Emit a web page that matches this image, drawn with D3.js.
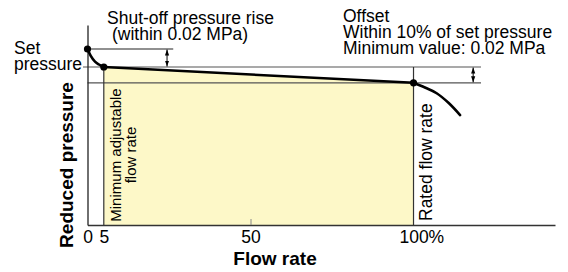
<!DOCTYPE html>
<html>
<head>
<meta charset="utf-8">
<script src="https://cdn.jsdelivr.net/npm/d3@7"></script>
<style>
  html, body { margin: 0; padding: 0; background: #ffffff; }
  svg { display: block; font-family: "Liberation Sans", Arial, Helvetica, sans-serif; }
</style>
</head>
<body>
<svg id="chart" width="568" height="272"></svg>
<script>
// ---- data (flow rate in % of rated flow, pressure in % of set pressure) ----
const shutoffFlow = [0, 1, 2.3, 3.5, 5];
const shutoffPressure = [111.4, 107.0, 103.4, 101.6, 100];
const regFlow = [5, 100];
const regPressure = [100, 90];
const dropFlow = [100, 103.5, 107.1, 110.8, 114.3];
const dropPressure = [90, 87.0, 83.4, 77.2, 69.6];
const keyFlow = [0, 5, 100];
const keyPressure = [111.4, 100, 90];
const tickValues = [0, 5, 50, 100];
const tickLabels = ["0", "5", "50", "100%"];
const setPressure = 100;
const offsetPressure = 90;
const shutoffRise = 111.4;
const minFlow = 5;
const ratedFlow = 100;

// ---- scales ----
const svg = d3.select("#chart");
const x = d3.scaleLinear().domain([0, 143.4]).range([87.5, 555]);
const y = d3.scaleLinear().domain([0, 126.6]).range([225, 25]);
const font = 17.5;
const grey = "#555";

// yellow band under the regulated curve
const areaPts = shutoffFlow.slice(-1).map((f, i) => [f, shutoffPressure[shutoffPressure.length - 1]])
  .concat(regFlow.map((f, i) => [f, regPressure[i]]));
svg.append("path")
  .attr("d", d3.area().x(d => x(d[0])).y0(y(0)).y1(d => y(d[1]))(regFlow.map((f, i) => [f, regPressure[i]])))
  .attr("fill", "#fdf8c8");

// reference lines
const ln = (x1, y1, x2, y2, c, w) => svg.append("line")
  .attr("x1", x1).attr("y1", y1).attr("x2", x2).attr("y2", y2)
  .attr("stroke", c).attr("stroke-width", w || 1);
ln(x(0) - 4.5, y(setPressure), x(0) + 393.5, y(setPressure), grey, 1.2);
ln(x(0), y(offsetPressure), x(0) + 393.5, y(offsetPressure), grey, 1.2);
ln(x(0), y(shutoffRise), x(26.3), y(shutoffRise), "#222", 1.2);
ln(x(minFlow), y(setPressure), x(minFlow), y(0), "#333", 1.2);
ln(x(ratedFlow), y(setPressure), x(ratedFlow), y(0), "#333", 1.2);

// axes
const xAxis = svg.append("g").attr("transform", `translate(0,${y(0)})`)
  .call(d3.axisBottom(x).tickValues(tickValues).tickSizeInner(-6).tickSizeOuter(0).tickPadding(6)
    .tickFormat((d, i) => tickLabels[i]));
xAxis.select(".domain").attr("stroke", "#333").attr("stroke-width", 1.3);
xAxis.selectAll(".tick line").attr("stroke", (d) => d === 50 ? "#888" : "none");
xAxis.selectAll(".tick text").attr("font-size", font).attr("fill", "#000")
  .attr("font-family", '"Liberation Sans", Arial, sans-serif');
xAxis.selectAll(".tick text").filter(d => d === 100).each(function () {
  const t = d3.select(this);
  const tmp = svg.append("text").attr("font-size", font).text("100");
  const w = tmp.node().getComputedTextLength();
  tmp.remove();
  t.attr("text-anchor", "start").attr("x", -w / 2);
});

const yAxis = svg.append("g").attr("transform", `translate(${x(0)},0)`)
  .call(d3.axisLeft(y).tickValues([]).tickSizeOuter(0));
yAxis.select(".domain").attr("stroke", "#222").attr("stroke-width", 1.3);

// curve
const line = d3.line().x(d => x(d[0])).y(d => y(d[1]));
const seg = (fs, ps, curve) => svg.append("path")
  .attr("d", line.curve(curve)(fs.map((f, i) => [f, ps[i]])))
  .attr("fill", "none").attr("stroke", "#000").attr("stroke-width", 2.6)
  .attr("stroke-linecap", "round").attr("stroke-linejoin", "round");
seg(shutoffFlow, shutoffPressure, d3.curveMonotoneX);
seg(regFlow, regPressure, d3.curveLinear);
seg(dropFlow, dropPressure, d3.curveMonotoneX);

// key points
svg.selectAll("circle.key").data(keyFlow).join("circle")
  .attr("class", "key")
  .attr("cx", d => x(d)).attr("cy", (d, i) => y(keyPressure[i])).attr("r", 3.6).attr("fill", "#000");

// double arrows
const defs = svg.append("defs");
["s", "e"].forEach(k => {
  defs.append("marker").attr("id", "ar" + k).attr("viewBox", "0 0 10 10")
    .attr("refX", 10).attr("refY", 5).attr("markerWidth", 6).attr("markerHeight", 6)
    .attr("markerUnits", "userSpaceOnUse")
    .attr("orient", k === "s" ? "auto-start-reverse" : "auto")
    .append("path").attr("d", "M0,1.5 L10,5 L0,8.5 Z").attr("fill", "#000");
});
const dArrow = (fx, p1, p2) => svg.append("line")
  .attr("x1", x(fx)).attr("x2", x(fx)).attr("y1", y(p1) + 0.5).attr("y2", y(p2) - 0.5)
  .attr("stroke", "#000").attr("stroke-width", 1)
  .attr("marker-start", "url(#ars)").attr("marker-end", "url(#are)");
dArrow(24.4, shutoffRise, setPressure);
dArrow(118.3, setPressure, offsetPressure);

// texts
const txt = (s, tx, ty, opts = {}) => svg.append("text")
  .attr("x", tx).attr("y", ty).attr("font-size", opts.size || font)
  .attr("font-weight", opts.bold ? "bold" : "normal")
  .attr("text-anchor", opts.anchor || "start")
  .attr("transform", opts.rot ? `rotate(-90,${tx},${ty})` : null)
  .attr("fill", "#000").text(s);

txt("Shut-off pressure rise", 107, 24);
txt("(within 0.02 MPa)", 112, 40);
txt("Offset", 343, 22);
txt("Within 10% of set pressure", 343, 38);
txt("Minimum value: 0.02 MPa", 343, 54);
txt("Set", 14, 54);
txt("pressure", 14, 70);
txt("Reduced pressure", 73, 165, { bold: true, size: 19, anchor: "middle", rot: true });
txt("Flow rate", 275, 265, { bold: true, size: 19, anchor: "middle" });
txt("Minimum adjustable", 121, 155, { size: 15, anchor: "middle", rot: true });
txt("flow rate", 136, 155, { size: 15, anchor: "middle", rot: true });
txt("Rated flow rate", 432, 221, { anchor: "start", rot: true });
</script>
</body>
</html>
